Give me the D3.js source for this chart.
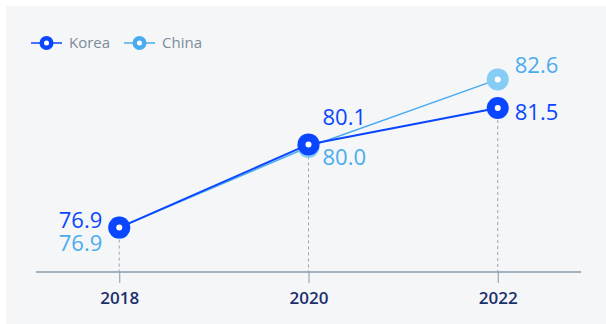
<!DOCTYPE html>
<html>
<head>
<meta charset="utf-8">
<script src="https://cdn.jsdelivr.net/npm/d3@7"></script>
<style>
  html, body { margin: 0; padding: 0; background: #fff; }
  svg { display: block; font-family: "Open Sans", "Noto Sans", sans-serif; }
</style>
</head>
<body>
<svg id="chart" width="606" height="324"></svg>
<script>
const years = ["2018", "2020", "2022"];
const korea = [76.9, 80.1, 81.5];
const china = [76.9, 80.0, 82.6];
const seriesNames = ["Korea", "China"];

const KOREA = "#0a46ff";
const CHINA = "#4aacef";
const CHINA_MARK = "#86cdf5";

const svg = d3.select("#chart");
const width = 606, height = 324;

svg.append("rect")
  .attr("x", 6).attr("y", 6)
  .attr("width", width - 6).attr("height", height - 6)
  .attr("fill", "#f4f6f8");

const axisY = 272;
const x = d3.scalePoint().domain(years).range([36, 581]).padding(0.44);
const y = d3.scaleLinear().domain([75, 83]).range([277, 69]);

// x axis
const xAxis = svg.append("g")
  .attr("transform", `translate(0,${axisY})`)
  .call(d3.axisBottom(x).tickSize(11).tickPadding(9));
xAxis.select(".domain").remove();
xAxis.selectAll(".tick line").attr("stroke", "#8a98a7").attr("stroke-width", 1);
xAxis.selectAll(".tick text")
  .attr("fill", "#1b2f6b")
  .attr("font-size", 17)
  .attr("font-weight", 600)
  .attr("font-family", "'Open Sans', sans-serif");

svg.append("line")
  .attr("x1", 36).attr("x2", 581)
  .attr("y1", axisY).attr("y2", axisY)
  .attr("stroke", "#8a9aaa").attr("stroke-width", 1.5);

const kData = years.map((yr, i) => ({ yr, v: korea[i] }));
const cData = years.map((yr, i) => ({ yr, v: china[i] }));

// dashed drop lines
svg.append("g").selectAll("line")
  .data(kData)
  .join("line")
  .attr("x1", (d) => x(d.yr)).attr("x2", (d) => x(d.yr))
  .attr("y1", (d) => y(d.v)).attr("y2", axisY)
  .attr("stroke", "#9aa5b1")
  .attr("stroke-width", 1)
  .attr("stroke-dasharray", "3,3");

const line = d3.line().x((d) => x(d.yr)).y((d) => y(d.v));

svg.append("path")
  .datum(cData)
  .attr("d", line)
  .attr("fill", "none")
  .attr("stroke", CHINA)
  .attr("stroke-width", 1.5);

const cMarks = svg.append("g");
cMarks.selectAll("circle.outer")
  .data(cData)
  .join("circle")
  .attr("class", "outer")
  .attr("cx", (d) => x(d.yr)).attr("cy", (d) => y(d.v))
  .attr("r", 11)
  .attr("fill", CHINA_MARK);
cMarks.selectAll("circle.inner")
  .data(cData)
  .join("circle")
  .attr("class", "inner")
  .attr("cx", (d) => x(d.yr)).attr("cy", (d) => y(d.v))
  .attr("r", 3)
  .attr("fill", "#fff");

svg.append("path")
  .datum(kData)
  .attr("d", line)
  .attr("fill", "none")
  .attr("stroke", KOREA)
  .attr("stroke-width", 2);

const kMarks = svg.append("g");
kMarks.selectAll("circle.outer")
  .data(kData)
  .join("circle")
  .attr("class", "outer")
  .attr("cx", (d) => x(d.yr)).attr("cy", (d) => y(d.v))
  .attr("r", 11)
  .attr("fill", KOREA);
kMarks.selectAll("circle.inner")
  .data(kData)
  .join("circle")
  .attr("class", "inner")
  .attr("cx", (d) => x(d.yr)).attr("cy", (d) => y(d.v))
  .attr("r", 3)
  .attr("fill", "#fff");

// value labels
const kOffsets = [[-17, 0, "end"], [14, -19, "start"], [17, 12, "start"]];
const cOffsets = [[-17, 23, "end"], [14, 18, "start"], [17, -6, "start"]];

svg.append("g").selectAll("text")
  .data(kData)
  .join("text")
  .attr("x", (d, i) => x(d.yr) + kOffsets[i][0])
  .attr("y", (d, i) => y(d.v) + kOffsets[i][1])
  .attr("text-anchor", (d, i) => kOffsets[i][2])
  .attr("font-size", 22)
  .attr("fill", KOREA)
  .text((d) => d.v.toFixed(1));

svg.append("g").selectAll("text")
  .data(cData)
  .join("text")
  .attr("x", (d, i) => x(d.yr) + cOffsets[i][0])
  .attr("y", (d, i) => y(d.v) + cOffsets[i][1])
  .attr("text-anchor", (d, i) => cOffsets[i][2])
  .attr("font-size", 22)
  .attr("fill", CHINA)
  .text((d) => d.v.toFixed(1));

// legend
const legend = svg.append("g").attr("transform", "translate(31,43)");
const items = legend.selectAll("g")
  .data(seriesNames)
  .join("g")
  .attr("transform", (d, i) => `translate(${i * 93},0)`);
items.append("line")
  .attr("x1", 0).attr("x2", 31)
  .attr("stroke", (d, i) => (i === 0 ? KOREA : CHINA))
  .attr("stroke-width", 1.5);
items.append("circle")
  .attr("cx", 15.5).attr("r", 7)
  .attr("fill", (d, i) => (i === 0 ? KOREA : CHINA));
items.append("circle")
  .attr("cx", 15.5).attr("r", 2.5)
  .attr("fill", "#fff");
items.append("text")
  .attr("x", 38)
  .attr("dy", "0.35em")
  .attr("font-size", 15)
  .attr("fill", "#7d8b99")
  .text((d) => d);
</script>
</body>
</html>
